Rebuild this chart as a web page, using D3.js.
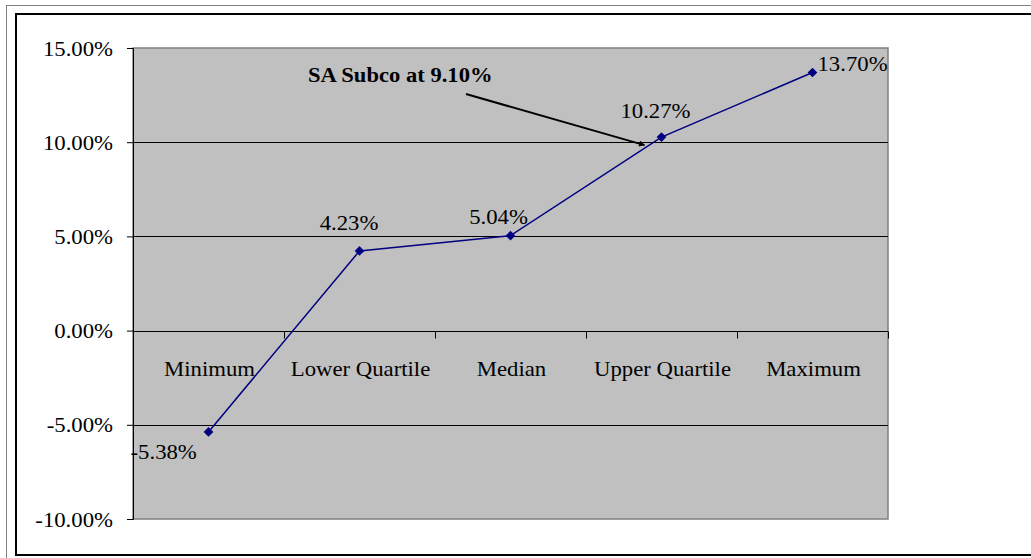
<!DOCTYPE html>
<html>
<head>
<meta charset="utf-8">
<script src="https://cdn.jsdelivr.net/npm/d3@7"></script>
<style>
html,body{margin:0;padding:0;background:#fff;}
svg{display:block;}
text{font-family:"Liberation Serif","Times New Roman",serif;}
</style>
</head>
<body>
<svg id="chart" width="1031" height="558"></svg>
<script>
const categories = ["Minimum", "Lower Quartile", "Median", "Upper Quartile", "Maximum"];
const values = [-5.38, 4.23, 5.04, 10.27, 13.70];
const yTicks = [15, 10, 5, 0, -5, -10];
const annotationText = "SA Subco at 9.10%";
const annotationValue = 9.10;

const FONT = "Liberation Serif, Times New Roman, serif";
const FS = 20.5, SX = 1.11;
const pct = v => d3.format(".2f")(v).replace("\u2212", "-") + "%";

const svg = d3.select("#chart");
const W = 1031;
const plot = {left: 133, top: 48, right: 888, bottom: 519};

function addText(g, x, y, txt, anchor, opts = {}) {
  return g.append("text")
    .attr("transform", `translate(${x},${y}) scale(${opts.sx || SX},1)`)
    .attr("text-anchor", anchor || "start")
    .attr("font-family", FONT)
    .attr("font-size", opts.fs || FS)
    .attr("font-weight", opts.bold ? "bold" : "normal")
    .attr("fill", "#000")
    .text(txt);
}

// outer frames
svg.append("rect").attr("x", 6.5).attr("y", 5.5).attr("width", W).attr("height", 560)
  .attr("fill", "none").attr("stroke", "#808080").attr("stroke-width", 1);
svg.append("rect").attr("x", 16).attr("y", 14).attr("width", W).attr("height", 541)
  .attr("fill", "none").attr("stroke", "#000").attr("stroke-width", 2);

const x = d3.scaleBand().domain(categories).range([plot.left, plot.right]).padding(0);
const y = d3.scaleLinear().domain([-10, 15]).range([plot.bottom, plot.top]);
const cx = c => x(c) + x.bandwidth() / 2;

// plot area
svg.append("rect").attr("x", plot.left).attr("y", plot.top)
  .attr("width", plot.right - plot.left).attr("height", plot.bottom - plot.top)
  .attr("fill", "#C0C0C0").attr("stroke", "#808080").attr("stroke-width", 1.5);

// gridlines
svg.append("g").selectAll("line").data(yTicks.filter(d => d !== 15 && d !== -10 && d !== 0)).join("line")
  .attr("x1", plot.left).attr("x2", plot.right)
  .attr("y1", d => Math.round(y(d)) + 0.5).attr("y2", d => Math.round(y(d)) + 0.5)
  .attr("stroke", "#000").attr("stroke-width", 1);

// y axis
const yAxis = d3.axisLeft(y).tickValues(yTicks).tickSize(6).tickFormat(pct);
const gy = svg.append("g").attr("transform", `translate(${plot.left},0)`).call(yAxis);
gy.select(".domain").attr("stroke", "#000").attr("stroke-width", 1);
gy.selectAll(".tick line").attr("stroke", "#000");
gy.selectAll(".tick text")
  .attr("x", null).attr("dy", null)
  .attr("transform", `translate(-20,7) scale(${SX},1)`)
  .attr("font-size", FS).attr("fill", "#000").attr("font-family", FONT);

// x axis at zero
const y0 = Math.round(y(0)) + 0.5;
svg.append("line").attr("x1", plot.left).attr("x2", plot.right).attr("y1", y0).attr("y2", y0)
  .attr("stroke", "#000").attr("stroke-width", 1);
const bounds = categories.map(c => x(c)).slice(1).concat([plot.right]);
svg.append("g").selectAll("line").data(bounds).join("line")
  .attr("x1", d => Math.round(d) + 0.5).attr("x2", d => Math.round(d) + 0.5)
  .attr("y1", y0).attr("y2", y0 + 7).attr("stroke", "#000");
const gCat = svg.append("g");
categories.forEach(c => addText(gCat, cx(c) + 1, 376, c, "middle"));

// line
const pts = categories.map((c, i) => ({c, v: values[i]}));
svg.append("path").datum(pts)
  .attr("d", d3.line().x(d => cx(d.c)).y(d => y(d.v)))
  .attr("fill", "none").attr("stroke", "#000080").attr("stroke-width", 1.5);
svg.append("g").selectAll("path").data(pts).join("path")
  .attr("transform", d => `translate(${cx(d.c)},${y(d.v)})`)
  .attr("d", d3.symbol().type(d3.symbolDiamond2).size(60))
  .attr("fill", "#000080");

// data labels
const labelPos = [
  {dx: -78, dy: 27, anchor: "start"},
  {dx: -10.5, dy: -21, anchor: "middle"},
  {dx: -12, dy: -11.5, anchor: "middle"},
  {dx: -6, dy: -19, anchor: "middle"},
  {dx: 5, dy: -1.5, anchor: "start"}
];
const gLab = svg.append("g");
pts.forEach((d, i) => addText(gLab, cx(d.c) + labelPos[i].dx, y(d.v) + labelPos[i].dy, pct(d.v), labelPos[i].anchor));

// annotation
svg.append("defs").append("marker").attr("id", "arrow")
  .attr("viewBox", "0 0 10 10").attr("refX", 9).attr("refY", 5)
  .attr("markerWidth", 10).attr("markerHeight", 6).attr("orient", "auto")
  .attr("markerUnits", "userSpaceOnUse")
  .append("path").attr("d", "M0,0 L10,5 L0,10 z").attr("fill", "#000");
addText(svg, 308, 82, annotationText, "start", {bold: true, fs: 20, sx: 1.13});
svg.append("line").attr("x1", 466).attr("y1", 94)
  .attr("x2", cx("Upper Quartile") - 17).attr("y2", y(annotationValue) - 14)
  .attr("stroke", "#000").attr("stroke-width", 2).attr("marker-end", "url(#arrow)");
</script>
</body>
</html>
